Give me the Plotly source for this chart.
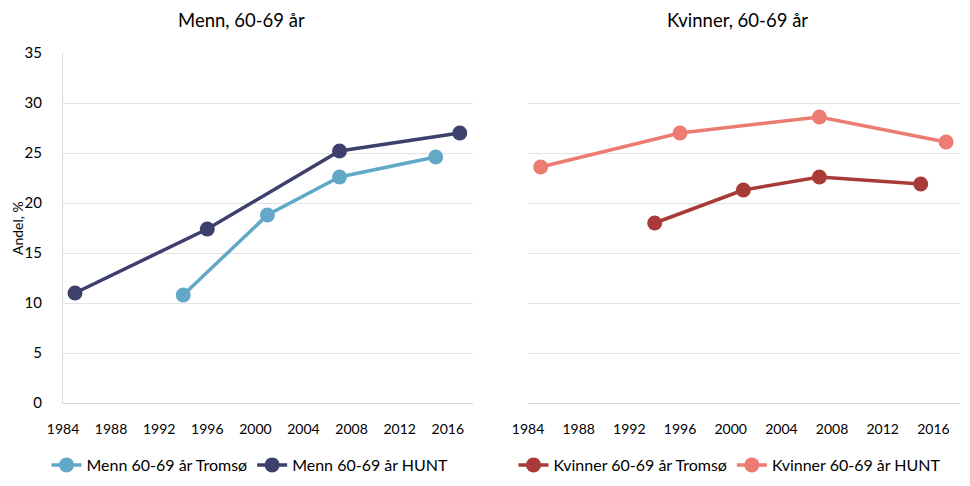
import plotly.graph_objects as go

# Data
menn_tromso_years = [1994, 2001, 2007, 2015]
menn_tromso_vals = [10.8, 18.8, 22.6, 24.6]
menn_hunt_years = [1985, 1996, 2007, 2017]
menn_hunt_vals = [11.0, 17.4, 25.2, 27.0]
kv_tromso_years = [1994, 2001, 2007, 2015]
kv_tromso_vals = [18.0, 21.3, 22.6, 21.9]
kv_hunt_years = [1985, 1996, 2007, 2017]
kv_hunt_vals = [23.6, 27.0, 28.6, 26.1]
x_ticks = [1984, 1988, 1992, 1996, 2000, 2004, 2008, 2012, 2016]
y_ticks = [0, 5, 10, 15, 20, 25, 30, 35]

FONT = "Lato"
W, H = 970, 486

fig = go.Figure()

def add(x, y, name, color, xa, ya, legend):
    fig.add_trace(go.Scatter(
        x=x, y=y, name=name, mode="lines+markers",
        line=dict(color=color, width=3.5),
        marker=dict(color=color, size=15),
        xaxis=xa, yaxis=ya, legend=legend,
    ))

add(menn_tromso_years, menn_tromso_vals, "Menn 60-69 år Tromsø", "#62a9c8", "x", "y", "legend")
add(menn_hunt_years, menn_hunt_vals, "Menn 60-69 år HUNT", "#3d3f6d", "x", "y", "legend")
add(kv_tromso_years, kv_tromso_vals, "Kvinner 60-69 år Tromsø", "#a83b38", "x2", "y2", "legend2")
add(kv_hunt_years, kv_hunt_vals, "Kvinner 60-69 år HUNT", "#ec7b71", "x2", "y2", "legend2")

ydom = [(H - 403) / H, (H - 53) / H]
xr = [1984, 2018.1]
grid_vals = [v for v in y_ticks if 0 < v < 35]

def xaxis(dom):
    return dict(domain=dom, range=xr, tickvals=x_ticks, showgrid=False, zeroline=False,
                showline=True, linecolor="#d9d9d9", linewidth=1.3, ticks="", automargin=False,
                ticklabelstandoff=13, tickfont=dict(family=FONT, size=14, color="#000"))

def yaxis(show):
    return dict(domain=ydom, range=[0, 35], tickvals=y_ticks, showgrid=False, zeroline=False,
                showline=show, linecolor="#d9d9d9", linewidth=1.3, ticks="", automargin=False,
                showticklabels=show, ticklabelstandoff=17,
                tickfont=dict(family=FONT, size=15, color="#000"),
                minor=dict(tickvals=grid_vals, showgrid=True, gridcolor="#e3e3e3",
                           gridwidth=1.3, ticks=""))

legend_common = dict(orientation="h", xanchor="center", y=(H - 465) / H, yanchor="middle",
                     font=dict(family=FONT, size=16, color="#000"), itemwidth=30,
                     tracegroupgap=0, bgcolor="rgba(0,0,0,0)")

fig.update_layout(
    width=W, height=H, margin=dict(l=0, r=0, t=0, b=0, autoexpand=False),
    plot_bgcolor="white", paper_bgcolor="white",
    xaxis=xaxis([63 / W, 473 / W]), yaxis=yaxis(True),
    xaxis2=dict(xaxis([528 / W, 960 / W]), anchor="y2"),
    yaxis2=dict(yaxis(False), anchor="x2"),
    legend=dict(legend_common, x=250 / W),
    legend2=dict(legend_common, x=730 / W),
    annotations=[
        dict(text="Menn, 60-69 år", x=241 / W, y=(H - 20) / H, xref="paper", yref="paper",
             xanchor="center", yanchor="middle",
             showarrow=False, font=dict(family=FONT, size=18.5, color="#000")),
        dict(text="Kvinner, 60-69 år", x=737 / W, y=(H - 20) / H, xref="paper", yref="paper",
             xanchor="center", yanchor="middle",
             showarrow=False, font=dict(family=FONT, size=18.5, color="#000")),
        dict(text="Andel, %", x=17 / W, y=(H - 228) / H, xref="paper", yref="paper",
             xanchor="center", yanchor="middle",
             textangle=-90, showarrow=False, font=dict(family=FONT, size=14, color="#000")),
    ],
)

fig.write_html("out.html")
